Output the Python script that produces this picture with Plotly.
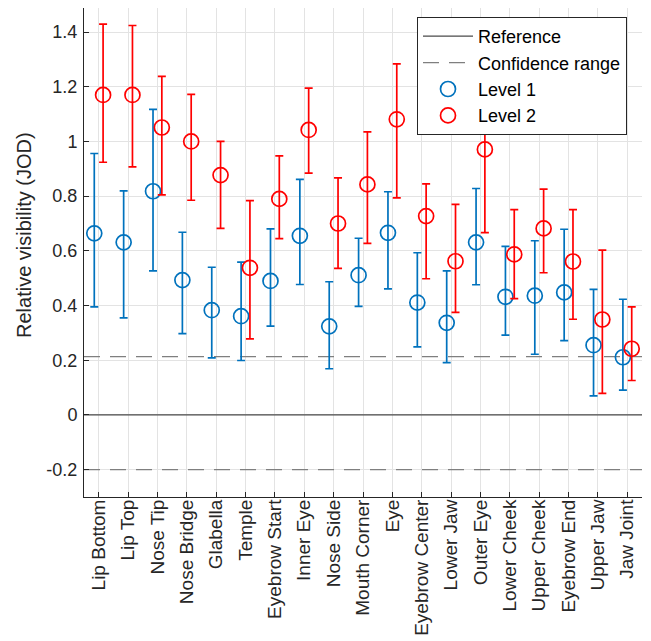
import plotly.graph_objects as go

categories = ["Lip Bottom", "Lip Top", "Nose Tip", "Nose Bridge", "Glabella", "Temple",
              "Eyebrow Start", "Inner Eye", "Nose Side", "Mouth Corner", "Eye",
              "Eyebrow Center", "Lower Jaw", "Outer Eye", "Lower Cheek", "Upper Cheek",
              "Eyebrow End", "Upper Jaw", "Jaw Joint"]

level1_mean = [0.664, 0.631, 0.818, 0.493, 0.383, 0.361, 0.490, 0.655, 0.324, 0.511, 0.666,
               0.411, 0.337, 0.631, 0.432, 0.436, 0.448, 0.255, 0.211]
level1_upper = [0.956, 0.819, 1.117, 0.668, 0.540, 0.559, 0.680, 0.861, 0.487, 0.646, 0.816,
                0.593, 0.527, 0.828, 0.616, 0.637, 0.679, 0.459, 0.423]
level1_lower = [0.395, 0.355, 0.527, 0.297, 0.209, 0.199, 0.325, 0.477, 0.169, 0.397, 0.461,
                0.249, 0.191, 0.476, 0.292, 0.222, 0.272, 0.070, 0.091]

level2_mean = [1.170, 1.170, 1.051, 1.000, 0.877, 0.538, 0.790, 1.042, 0.700, 0.843, 1.081,
               0.727, 0.562, 0.971, 0.587, 0.682, 0.561, 0.349, 0.242]
level2_upper = [1.429, 1.424, 1.238, 1.172, 1.000, 0.784, 0.947, 1.195, 0.867, 1.035, 1.284,
                0.845, 0.770, 1.275, 0.751, 0.826, 0.751, 0.603, 0.395]
level2_lower = [0.924, 0.907, 0.805, 0.785, 0.682, 0.278, 0.645, 0.884, 0.536, 0.627, 0.794,
                0.498, 0.375, 0.667, 0.425, 0.520, 0.350, 0.079, 0.126]

reference_value = 0.0
confidence_upper = 0.213
confidence_lower = -0.2

ytick_vals = [-0.2, 0, 0.2, 0.4, 0.6, 0.8, 1.0, 1.2, 1.4]
ytick_text = ["-0.2", "0", "0.2", "0.4", "0.6", "0.8", "1", "1.2", "1.4"]

FONT = "Liberation Sans, Arial, Helvetica, sans-serif"
TXT = "#262626"
BLUE = "#0072BD"
RED = "#FF0000"
offset = 0.15
n = len(categories)
xs = list(range(n))
xlim = [-0.5, n - 0.5]

# page has an 8px body margin; figure sized to fit the 651x641 window
FIG_W, FIG_H = 643, 633
ML, MR, MT, MB = 76, 9, 0, 144
plot_h = FIG_H - MT - MB
yscale = 273.5  # px per unit
ylim = [-0.3, -0.3 + plot_h / yscale]

fig = go.Figure()

fig.add_trace(go.Scatter(x=xlim, y=[reference_value, reference_value], mode="lines",
                         line=dict(color="#4a4a4a", width=1.2), name="Reference"))
fig.add_trace(go.Scatter(x=xlim, y=[confidence_upper, confidence_upper], mode="lines",
                         line=dict(color="#7f7f7f", width=1.2, dash="16px,10px"),
                         name="Confidence range", legendgroup="ci"))
fig.add_trace(go.Scatter(x=xlim, y=[confidence_lower, confidence_lower], mode="lines",
                         line=dict(color="#7f7f7f", width=1.2, dash="16px,10px"),
                         name="Confidence range", legendgroup="ci", showlegend=False))

def add_level(mean, upper, lower, color, name, shift):
    fig.add_trace(go.Scatter(
        x=[i + shift for i in xs], y=mean, mode="markers", name=name,
        marker=dict(symbol="circle-open", size=15, color=color, line=dict(width=1.7, color=color)),
        error_y=dict(type="data", symmetric=False,
                     array=[u - m for u, m in zip(upper, mean)],
                     arrayminus=[m - l for m, l in zip(mean, lower)],
                     color=color, thickness=1.7, width=4),
    ))

add_level(level1_mean, level1_upper, level1_lower, BLUE, "Level 1", -offset)
add_level(level2_mean, level2_upper, level2_lower, RED, "Level 2", offset)

plot_w = FIG_W - ML - MR
fig.update_layout(
    width=FIG_W, height=FIG_H,
    margin=dict(l=ML, r=MR, t=MT, b=MB, autoexpand=False),
    plot_bgcolor="white", paper_bgcolor="white",
    font=dict(family=FONT, size=18, color=TXT),
    showlegend=True,
    legend=dict(x=(417 - 8 - ML) / plot_w, y=1 - (17 - 8 - MT) / plot_h,
                xanchor="left", yanchor="top",
                bgcolor="white", bordercolor=TXT, borderwidth=1,
                font=dict(family=FONT, size=18, color="black"),
                tracegroupgap=0, itemwidth=50),
    annotations=[dict(text="Relative visibility (JOD)", textangle=-90,
                      xref="paper", yref="paper",
                      x=(24 - 8 - ML) / plot_w, y=1 - (235 - 8 - MT) / plot_h,
                      xanchor="center", yanchor="middle", showarrow=False,
                      font=dict(family=FONT, size=20, color=TXT))],
)
fig.update_xaxes(range=xlim, tickmode="array", tickvals=xs, ticktext=categories,
                 tickangle=-90, ticks="inside", ticklen=5, tickcolor=TXT, automargin=False,
                 showline=True, linecolor=TXT, linewidth=1,
                 showgrid=True, gridcolor="#e3e3e3", gridwidth=1, zeroline=False,
                 tickfont=dict(family=FONT, size=19, color=TXT), ticklabelstandoff=-6)
fig.update_yaxes(range=ylim, tickmode="array", tickvals=ytick_vals, ticktext=ytick_text,
                 ticks="inside", ticklen=5, tickcolor=TXT, automargin=False,
                 showline=True, linecolor=TXT, linewidth=1,
                 showgrid=True, gridcolor="#e3e3e3", gridwidth=1, zeroline=False,
                 tickfont=dict(family=FONT, size=18, color=TXT), ticklabelstandoff=2)

fig.write_html("out.html")
